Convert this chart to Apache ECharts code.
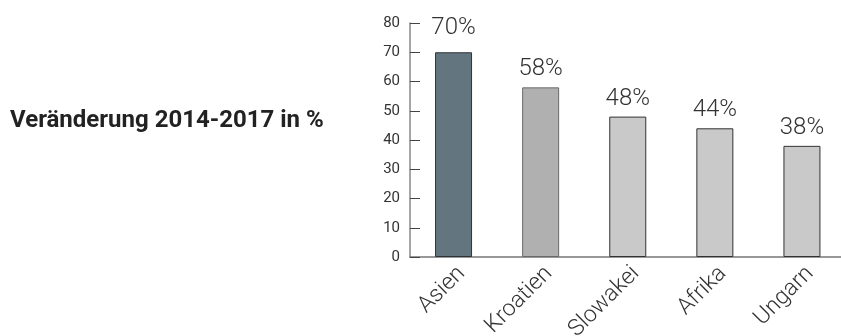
<!DOCTYPE html>
<html style="height: 100%">
    <head>
        <title>Veränderung 2014-2017</title>
        <script type="text/javascript" src="https://fastly.jsdelivr.net/npm/echarts@6.0.0/dist/echarts.min.js"></script>
    </head>
    <body style="height: 100%; margin: 0; background: #fff">
        <div id="target" style="width: 841px; height: 336px"></div>

<script type="text/javascript">
// chart data
let categories = ["Asien", "Kroatien", "Slowakei", "Afrika", "Ungarn"];
let values     = [70, 58, 48, 44, 38];
let yTicks     = [0, 10, 20, 30, 40, 50, 60, 70, 80];

let chart = echarts.init(document.getElementById('target'));

// bar look per category
let fills   = ["#637680", "#b0b0b0", "#c9c9c9", "#c9c9c9", "#c9c9c9"];
let borders = ["#2e3338", "#6a6a6a", "#333333", "#333333", "#333333"];

let data = values.map((v, i) => ({
    value: v,
    itemStyle: {
        color: fills[i],
        borderColor: borders[i],
        borderWidth: 1,
    },
    label: {
        distance: i == 0 ? 12 : 6,
    },
}));

let option = {
    animation: false,
    textStyle: {
        fontFamily: "Roboto",
    },
    title: {
        text: "Veränderung 2014-2017 in %",
        left: 10,
        top: 109,
        padding: 0,
        textStyle: {
            fontFamily: "Roboto",
            fontWeight: "bold",
            fontSize: 24,
            color: "#222",
        },
    },
    grid: {
        left: 410,
        width: 435.5,
        top: 23,
        bottom: 79,
        outerBoundsMode: "none",
        containLabel: false,
    },
    xAxis: {
        type: "category",
        data: categories,
        axisLine: { lineStyle: { color: "#777", width: 1.5 } },
        axisTick: {
            inside: true,
            length: 6,
            lineStyle: { color: "#333" },
        },
        axisLabel: {
            rotate: 45,
            margin: 5,
            verticalAlign: "top",
            fontSize: 23,
            fontWeight: 300,
            color: "#333",
        },
    },
    yAxis: {
        type: "value",
        min: yTicks[0],
        max: yTicks[yTicks.length - 1],
        interval: 10,
        splitLine: { show: false },
        axisLine: { show: true, lineStyle: { color: "#888", width: 1.5 } },
        axisTick: {
            show: true,
            inside: true,
            length: 10,
            lineStyle: { color: "#444" },
        },
        axisLabel: {
            fontSize: 15,
            color: "#333",
            margin: 10,
        },
    },
    series: [
        {
            type: "bar",
            data: data,
            barWidth: 37,
            label: {
                show: true,
                position: "top",
                formatter: "{c}%",
                fontSize: 24,
                fontWeight: 300,
                color: "#333",
            },
        },
    ],
};

chart.setOption(option);
</script>
    </body>
</html>
